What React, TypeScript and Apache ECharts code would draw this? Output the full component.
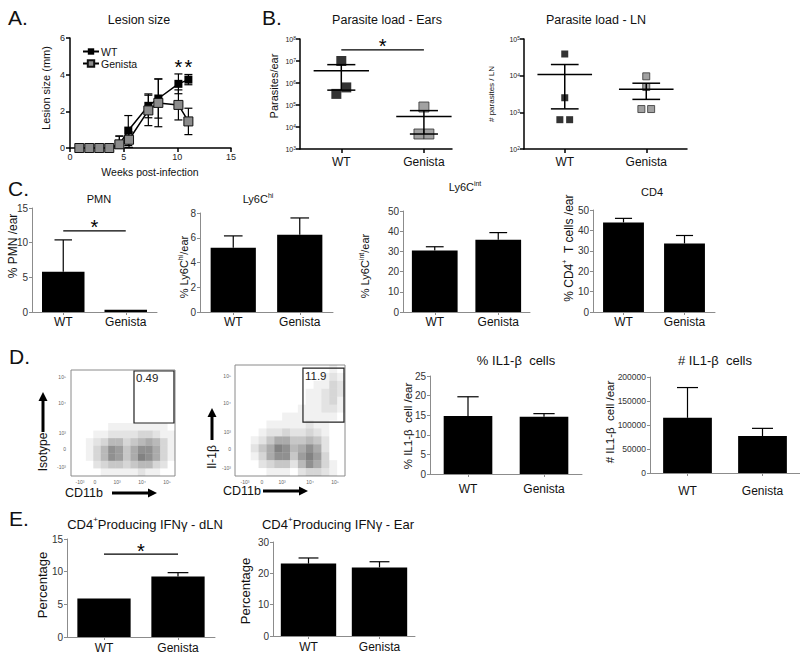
import React, { useEffect, useRef } from 'react';
import * as echarts from 'echarts';

const FONT = '"Liberation Sans", Arial, Helvetica, sans-serif';
const GROUPS = ['WT', 'Genista'];

// ---------- A. Lesion size ----------
const lesionWeeksWT = [0.87, 1.8, 2.73, 3.66, 4.6, 5.43, 7.3, 8.23, 10.1, 11.03];
const lesionWT = [0, 0, 0, 0, 0.2, 0.95, 2.3, 2.7, 3.5, 3.73];
const lesionWTErr = [0, 0, 0, 0, 0.45, 0.82, 0.65, 1.07, 0.54, 0.28];
const lesionWeeksGen = [0.87, 1.8, 2.73, 3.66, 4.6, 5.5, 7.3, 8.23, 10.1, 11.03];
const lesionGen = [0, 0, 0, 0, 0.2, 0.45, 2.05, 2.46, 2.35, 1.45];
const lesionGenErr = [0, 0, 0, 0, 0.45, 0.42, 0.83, 1.3, 0.82, 0.72];
const lesionStarWeeks = [10.1, 11.03];
const lesionStarY = 4.4;

// ---------- B. Parasite load ----------
const earsWT = [1.0e7, 6.3e5, 3.2e5];
const earsJitterWT = [0, 0.06, -0.06];
const earsGen = [8.1e4, 4.8e3, 4.8e3];
const earsJitterGen = [0, -0.06, 0.06];
const earsSig = 3.2e7;
const lnWT = [3.9e4, 2.5e3, 6.3e2, 6.3e2];
const lnJitterWT = [0, 0, -0.06, 0.06];
const lnGen = [9.6e3, 4.9e3, 1.23e3, 1.23e3];
const lnJitterGen = [0, 0, -0.06, 0.06];

// ---------- C. Cell populations ----------
const pmnMean = [5.8, 0.34];
const pmnSem = [4.6, 0];
const pmnSig = 11.7;
const ly6chiMean = [5.2, 6.25];
const ly6chiSem = [0.95, 1.35];
const ly6cintMean = [30.5, 35.8];
const ly6cintSem = [1.8, 3.5];
const cd4Mean = [43.9, 33.6];
const cd4Sem = [2.0, 3.9];

// ---------- D. IL1-beta ----------
const il1PctMean = [14.8, 14.6];
const il1PctSem = [4.9, 0.8];
const il1NumMean = [115000, 77000];
const il1NumSem = [63000, 16000];

// flow plot densities (rows top -> bottom, 14 x 14 cells, 0-9)
const flowIsotype = [
  '00000000000000',
  '00000000000000',
  '00000000000000',
  '00000000000000',
  '00000000000000',
  '00000000000000',
  '00000000000000',
  '00000111111110',
  '00011222233211',
  '00123553456531',
  '00135874688631',
  '00135874698631',
  '00023443455320',
  '00001111121100',
];
const flowIl1b = [
  '00000000000010',
  '00000000000121',
  '00000000001132',
  '00000000011232',
  '00000000011231',
  '00000000111221',
  '00000011111110',
  '00001111121100',
  '00012232232100',
  '00124664454200',
  '00246985686200',
  '00136884797300',
  '00023442586310',
  '00001110233210',
];
const flowIsotypeGate = [8.48, 7.0, 13.86, 13.87];
const flowIsotypeGateLabel = '0.49';
const flowIl1bGate = [8.65, 6.8, 13.87, 13.6];
const flowIl1bGateLabel = '11.9';
const flowTicksY = ['10⁵', '10⁴', '10³', '0', '-10³'];
const flowTicksX = ['-10³', '0', '10³', '10⁴', '10⁵'];

// ---------- E. IFN-gamma ----------
const ifnLnMean = [5.9, 9.25];
const ifnLnSem = [0, 0.6];
const ifnLnSig = 12.7;
const ifnEarMean = [23.1, 21.9];
const ifnEarSem = [1.8, 1.8];

// ---------- helpers ----------
const ln = (x1: number, y1: number, x2: number, y2: number, w = 1.2, c = '#000') => ({
  type: 'line',
  shape: { x1, y1, x2, y2 },
  style: { stroke: c, lineWidth: w },
});

const txtStyle = (text: string, fontSize: number, extra: any = {}) => ({
  text,
  fontSize,
  fontFamily: FONT,
  fill: extra.fill || '#111',
  align: extra.align || 'center',
  verticalAlign: extra.vAlign || 'middle',
  textAlign: extra.align || 'center',
  textVerticalAlign: extra.vAlign || 'middle',
  rich: extra.rich,
});

const T = (x: number, y: number, text: string, fontSize: number, extra: any = {}) => ({
  type: 'text',
  x,
  y,
  rotation: extra.rotation || 0,
  silent: true,
  style: txtStyle(text, fontSize, extra),
});

const supRich = (base: number, sup: number) => ({
  a: { fontSize: base, fontFamily: FONT, fill: '#111', lineHeight: base + 4 },
  b: { fontSize: sup, fontFamily: FONT, fill: '#111', verticalAlign: 'top', lineHeight: sup + 1 },
});

function stats(arr: number[]) {
  const n = arr.length;
  const m = arr.reduce((s, v) => s + v, 0) / n;
  const sd = Math.sqrt(arr.reduce((s, v) => s + (v - m) * (v - m), 0) / (n - 1));
  return { mean: m, sem: sd / Math.sqrt(n) };
}

const upperErr = (_p: any, api: any) => {
  const i = api.value(0), m = api.value(1), e = api.value(2);
  if (!e) return { type: 'group', children: [] };
  const p0 = api.coord([i, m]);
  const p1 = api.coord([i, m + e]);
  const hw = api.size([1, 0])[0] * 0.14;
  return { type: 'group', children: [ln(p0[0], p0[1], p1[0], p1[1]), ln(p1[0] - hw, p1[1], p1[0] + hw, p1[1])] };
};

const bothErr = (_p: any, api: any) => {
  const x = api.value(0), m = api.value(1), e = api.value(2);
  if (!e) return { type: 'group', children: [] };
  const u = api.coord([x, m + e]);
  const l = api.coord([x, Math.max(0, m - e)]);
  const hw = 4;
  return {
    type: 'group',
    children: [ln(u[0], u[1], l[0], l[1]), ln(u[0] - hw, u[1], u[0] + hw, u[1]), ln(l[0] - hw, l[1], l[0] + hw, l[1])],
  };
};

const sigRender = (_p: any, api: any) => {
  const a = api.coord([api.value(0), api.value(2)]);
  const b = api.coord([api.value(1), api.value(2)]);
  return {
    type: 'group',
    children: [
      ln(a[0], a[1], b[0], b[1], 1.3),
      { type: 'text', x: (a[0] + b[0]) / 2, y: a[1] - 3.5, style: txtStyle('*', 20, { fill: '#000' }) },
    ],
  };
};

const starRender = (_p: any, api: any) => {
  const p = api.coord([api.value(0), api.value(1)]);
  return { type: 'text', x: p[0], y: p[1], style: txtStyle('*', 20, { fill: '#000' }) };
};

const meanSemRender = (_p: any, api: any) => {
  const x = api.value(0);
  const m = api.coord([x, api.value(1)]);
  const u = api.coord([x, api.value(2)]);
  const l = api.coord([x, api.value(3)]);
  const unit = api.size([1, 0])[0];
  const mh = unit * 0.335, ch = unit * 0.17;
  return {
    type: 'group',
    children: [
      ln(m[0] - mh, m[1], m[0] + mh, m[1], 1.5),
      ln(u[0], u[1], l[0], l[1], 1.5),
      ln(u[0] - ch, u[1], u[0] + ch, u[1], 1.5),
      ln(l[0] - ch, l[1], l[0] + ch, l[1], 1.5),
    ],
  };
};

const densityRender = (_p: any, api: any) => {
  const x = api.value(0), y = api.value(1), d = api.value(2);
  const p0 = api.coord([x, y]);
  const p1 = api.coord([x + 1, y + 1]);
  return {
    type: 'rect',
    shape: { x: p0[0], y: p1[1], width: p1[0] - p0[0], height: p0[1] - p1[1] },
    style: { fill: `rgba(30,30,30,${(d * 0.062).toFixed(3)})` },
  };
};

const gateRender = (label: string) => (_p: any, api: any) => {
  const a = api.coord([api.value(0), api.value(3)]);
  const b = api.coord([api.value(2), api.value(1)]);
  return {
    type: 'group',
    children: [
      { type: 'rect', shape: { x: a[0], y: a[1], width: b[0] - a[0], height: b[1] - a[1] }, style: { fill: 'none', stroke: '#222', lineWidth: 1.2 } },
      { type: 'text', x: a[0] + 2, y: a[1] + 7.5, style: txtStyle(label, 11.5, { align: 'left', fill: '#222' }) },
    ],
  };
};

const densityData = (rows: string[]) =>
  rows.flatMap((row, r) => row.split('').map((c, col) => [col, rows.length - 1 - r, Number(c)])).filter((d) => d[2] > 0);

function buildOption() {
  const grid: any[] = [];
  const xAxis: any[] = [];
  const yAxis: any[] = [];
  const series: any[] = [];
  const graphic: any[] = [];

  const add = (g: any, x: any, y: any) => {
    grid.push(g);
    const gi = grid.length - 1;
    xAxis.push({ ...x, gridIndex: gi });
    yAxis.push({ ...y, gridIndex: gi });
    return gi;
  };

  const blackLine = { show: true, lineStyle: { color: '#000', width: 1.5 } };
  const blackTick = { show: true, length: 4, lineStyle: { color: '#000', width: 1.5 } };
  const grayLine = { show: true, lineStyle: { color: '#8c8c8c', width: 1 } };
  const grayTick = { show: true, length: 3, lineStyle: { color: '#8c8c8c', width: 1 } };
  const noSplit = { show: false };

  // ---------- A ----------
  const a = add(
    { left: 70, top: 38, width: 161, height: 110 },
    { type: 'value', min: 0, max: 15, interval: 5, axisLine: blackLine, axisTick: blackTick, splitLine: noSplit, axisLabel: { fontSize: 9, color: '#222', margin: 4, fontFamily: FONT } },
    { type: 'value', min: 0, max: 6, interval: 2, axisLine: blackLine, axisTick: blackTick, splitLine: noSplit, axisLabel: { fontSize: 9, color: '#222', margin: 5, fontFamily: FONT } }
  );
  series.push({
    type: 'custom', xAxisIndex: a, yAxisIndex: a, z: 2, encode: { x: 0, y: 1 }, renderItem: bothErr,
    data: lesionWeeksWT.map((w, i) => [w, lesionWT[i], lesionWTErr[i]]),
  });
  series.push({
    type: 'custom', xAxisIndex: a, yAxisIndex: a, z: 2, encode: { x: 0, y: 1 }, renderItem: bothErr,
    data: lesionWeeksGen.map((w, i) => [w, lesionGen[i], lesionGenErr[i]]),
  });
  series.push({
    type: 'line', name: 'WT', xAxisIndex: a, yAxisIndex: a, z: 4, symbol: 'rect', symbolSize: 8,
    lineStyle: { color: '#000', width: 1.5 }, itemStyle: { color: '#000' },
    data: lesionWeeksWT.map((w, i) => [w, lesionWT[i]]),
  });
  series.push({
    type: 'line', name: 'Genista', xAxisIndex: a, yAxisIndex: a, z: 5, symbol: 'rect', symbolSize: 9,
    lineStyle: { color: '#000', width: 1.5 }, itemStyle: { color: '#8c8c8c', borderColor: '#111', borderWidth: 1 },
    data: lesionWeeksGen.map((w, i) => [w, lesionGen[i]]),
  });
  series.push({
    type: 'custom', xAxisIndex: a, yAxisIndex: a, z: 6, encode: { x: 0, y: 1 }, renderItem: starRender,
    data: lesionStarWeeks.map((w) => [w, lesionStarY]),
  });

  // ---------- B ----------
  const logLabel = {
    fontSize: 7, color: '#222', margin: 4, fontFamily: FONT,
    formatter: (v: number) => '10{s|' + Math.round(Math.log10(v)) + '}',
    rich: { s: { fontSize: 5, verticalAlign: 'top', lineHeight: 6, fontFamily: FONT, color: '#222' } },
  };
  const catX = (max: number) => ({
    type: 'value', min: 0.5, max, splitLine: noSplit, axisLine: blackLine,
    axisTick: { ...blackTick, customValues: [1, 2] },
    axisLabel: { customValues: [1, 2], formatter: (v: number) => GROUPS[Math.round(v) - 1], fontSize: 12, color: '#111', margin: 7, fontFamily: FONT },
  });
  const scatterPair = (gi: number, wt: number[], wtJ: number[], gen: number[], genJ: number[], size: number) => {
    series.push({
      type: 'scatter', xAxisIndex: gi, yAxisIndex: gi, z: 3, symbol: 'rect', symbolSize: size,
      itemStyle: { color: '#000' }, data: wt.map((v, i) => [1 + wtJ[i], v]),
    });
    series.push({
      type: 'scatter', xAxisIndex: gi, yAxisIndex: gi, z: 3, symbol: 'rect', symbolSize: size,
      itemStyle: { color: '#8a8a8a', borderColor: '#333', borderWidth: 1 }, data: gen.map((v, i) => [2 + genJ[i], v]),
    });
    const sw = stats(wt), sg = stats(gen);
    series.push({
      type: 'custom', xAxisIndex: gi, yAxisIndex: gi, z: 4, encode: { x: 0, y: [1, 2, 3] }, renderItem: meanSemRender,
      data: [
        [1, sw.mean, sw.mean + sw.sem, sw.mean - sw.sem],
        [2, sg.mean, sg.mean + sg.sem, sg.mean - sg.sem],
      ],
    });
  };

  const b1 = add(
    { left: 300, top: 39, width: 152, height: 110 },
    catX(2.34),
    { type: 'log', logBase: 10, min: 1e3, max: 1e8, axisLine: blackLine, axisTick: blackTick, splitLine: noSplit, minorTick: { show: false }, axisLabel: logLabel }
  );
  scatterPair(b1, earsWT, earsJitterWT, earsGen, earsJitterGen, 10);
  series.push({
    type: 'custom', xAxisIndex: b1, yAxisIndex: b1, z: 5, encode: { x: [0, 1], y: 2 }, renderItem: sigRender,
    data: [[1, 2, earsSig]],
  });

  const b2 = add(
    { left: 524, top: 39, width: 163, height: 110 },
    catX(2.5),
    { type: 'log', logBase: 10, min: 1e2, max: 1e5, axisLine: blackLine, axisTick: blackTick, splitLine: noSplit, minorTick: { show: false }, axisLabel: logLabel }
  );
  scatterPair(b2, lnWT, lnJitterWT, lnGen, lnJitterGen, 7);

  // ---------- bar panels ----------
  const barPanel = (
    box: { left: number; top: number; width: number; height: number },
    means: number[], sems: number[], max: number, interval: number, barWidth: string,
    o: { yFont?: number; xMargin?: number; yFmt?: any; sig?: number } = {}
  ) => {
    const gi = add(
      box,
      {
        type: 'category', data: GROUPS, axisLine: grayLine, axisTick: { ...grayTick, alignWithLabel: true },
        axisLabel: { fontSize: 12, color: '#111', margin: o.xMargin ?? 4, fontFamily: FONT },
      },
      {
        type: 'value', min: 0, max, interval, splitLine: noSplit, axisLine: grayLine, axisTick: grayTick,
        axisLabel: { fontSize: o.yFont ?? 10, color: '#333', margin: 4, fontFamily: FONT, formatter: o.yFmt },
      }
    );
    series.push({ type: 'bar', xAxisIndex: gi, yAxisIndex: gi, data: means, barWidth, itemStyle: { color: '#000' }, z: 2 });
    series.push({
      type: 'custom', xAxisIndex: gi, yAxisIndex: gi, z: 3, encode: { x: 0, y: 1 }, renderItem: upperErr,
      data: means.map((m, i) => [i, m, sems[i]]),
    });
    if (o.sig !== undefined) {
      series.push({
        type: 'custom', xAxisIndex: gi, yAxisIndex: gi, z: 4, encode: { x: [0, 1], y: 2 }, renderItem: sigRender,
        data: [[0, 1, o.sig]],
      });
    }
  };

  barPanel({ left: 32, top: 208, width: 125, height: 104 }, pmnMean, pmnSem, 15, 5, '68%', { sig: pmnSig });
  barPanel({ left: 200, top: 213, width: 133, height: 99 }, ly6chiMean, ly6chiSem, 8, 2, '68%');
  barPanel({ left: 403, top: 211, width: 127, height: 101 }, ly6cintMean, ly6cintSem, 50, 10, '72%');
  barPanel({ left: 593, top: 210, width: 122, height: 102 }, cd4Mean, cd4Sem, 50, 10, '67%');
  barPanel({ left: 430, top: 376, width: 152, height: 98 }, il1PctMean, il1PctSem, 25, 5, '64%', { xMargin: 9 });
  barPanel({ left: 650, top: 377, width: 150, height: 96 }, il1NumMean, il1NumSem, 200000, 50000, '65%', {
    xMargin: 12, yFont: 8.5, yFmt: (v: number) => String(v),
  });
  barPanel({ left: 67, top: 539, width: 148, height: 98 }, ifnLnMean, ifnLnSem, 15, 5, '72%', { xMargin: 5, sig: ifnLnSig });
  barPanel({ left: 273, top: 542, width: 142, height: 94 }, ifnEarMean, ifnEarSem, 30, 10, '78%', { xMargin: 5 });

  // ---------- flow plots ----------
  const flowPanel = (box: any, rows: string[], gate: number[], label: string) => {
    const gi = add(
      { ...box, show: true, borderColor: '#8a8a8a', borderWidth: 1, backgroundColor: '#fff' },
      { type: 'value', min: 0, max: 14, show: false },
      { type: 'value', min: 0, max: 14, show: false }
    );
    series.push({
      type: 'custom', xAxisIndex: gi, yAxisIndex: gi, z: 2, encode: { x: 0, y: 1 }, renderItem: densityRender,
      data: densityData(rows),
    });
    series.push({
      type: 'custom', xAxisIndex: gi, yAxisIndex: gi, z: 3, encode: { x: [0, 2], y: [1, 3] }, renderItem: gateRender(label),
      data: [gate],
    });
  };
  flowPanel({ left: 71, top: 370, width: 104, height: 106 }, flowIsotype, flowIsotypeGate, flowIsotypeGateLabel);
  flowPanel({ left: 235, top: 365, width: 110, height: 111 }, flowIl1b, flowIl1bGate, flowIl1bGateLabel);

  // ---------- texts ----------
  graphic.push(T(8, 17, 'A.', 21, { align: 'left' }));
  graphic.push(T(262, 17, 'B.', 21, { align: 'left' }));
  graphic.push(T(8, 188, 'C.', 21, { align: 'left' }));
  graphic.push(T(9, 356, 'D.', 21, { align: 'left' }));
  graphic.push(T(9, 518, 'E.', 21, { align: 'left' }));

  graphic.push(T(139, 19.5, 'Lesion size', 12.5));
  graphic.push(T(387, 19.5, 'Parasite load - Ears', 12.5));
  graphic.push(T(596, 19.5, 'Parasite load - LN', 12.5));
  graphic.push(T(99, 199, 'PMN', 11));
  graphic.push(T(258, 199, '{a|Ly6C}{b|hi}', 11, { rich: supRich(11, 7) }));
  graphic.push(T(465, 187, '{a|Ly6C}{b|int}', 11, { rich: supRich(11, 7) }));
  graphic.push(T(652, 192, 'CD4', 11));
  graphic.push(T(516, 360, '% IL1-β  cells', 13));
  graphic.push(T(715, 360, '# IL1-β  cells', 13));
  graphic.push(T(145, 524, '{a|CD4}{b|+}{a|Producing IFNγ - dLN}', 13, { rich: supRich(13, 8) }));
  graphic.push(T(338, 524, '{a|CD4}{b|+}{a|Producing IFNγ - Ear}', 13, { rich: supRich(13, 8) }));

  const R = Math.PI / 2;
  graphic.push(T(150, 172, 'Weeks post-infection', 10.5));
  graphic.push(T(46, 88, 'Lesion size (mm)', 11, { rotation: R }));
  graphic.push(T(274, 86, 'Parasites/ear', 11, { rotation: R }));
  graphic.push(T(491, 94, '# parasites / LN', 8, { rotation: R }));
  graphic.push(T(12.5, 246, '% PMN /ear', 12, { rotation: R }));
  graphic.push(T(184, 267, '{a|% Ly6C}{b|hi}{a|/ear}', 11, { rotation: R, rich: supRich(11, 7) }));
  graphic.push(T(365, 266, '{a|% Ly6C}{b|int}{a|/ear}', 11, { rotation: R, rich: supRich(11, 7) }));
  graphic.push(T(569, 248, '{a|% CD4}{b|+}{a|  T cells /ear}', 12, { rotation: R, rich: supRich(12, 7) }));
  graphic.push(T(408, 426, '% IL1-β  cell /ear', 11.5, { rotation: R }));
  graphic.push(T(610, 422, '# IL1-β  cell /ear', 11.5, { rotation: R }));
  graphic.push(T(42, 585, 'Percentage', 13, { rotation: R }));
  graphic.push(T(245, 591, 'Percentage', 13, { rotation: R }));

  graphic.push(T(43, 452, 'Isotype', 12, { rotation: R }));
  graphic.push(T(212, 457, 'Il-1β', 12, { rotation: R }));
  graphic.push(T(84, 493, 'CD11b', 12.5));
  graphic.push(T(242, 491, 'CD11b', 12.5));
  const arrowUp = (x: number, y0: number, y1: number) => {
    graphic.push({ type: 'line', silent: true, shape: { x1: x, y1: y0, x2: x, y2: y1 + 8 }, style: { stroke: '#000', lineWidth: 3 } });
    graphic.push({ type: 'polygon', silent: true, shape: { points: [[x - 4.5, y1 + 9], [x + 4.5, y1 + 9], [x, y1]] }, style: { fill: '#000' } });
  };
  const arrowRight = (y: number, x0: number, x1: number) => {
    graphic.push({ type: 'line', silent: true, shape: { x1: x0, y1: y, x2: x1 - 8, y2: y }, style: { stroke: '#000', lineWidth: 3 } });
    graphic.push({ type: 'polygon', silent: true, shape: { points: [[x1 - 9, y - 4.5], [x1 - 9, y + 4.5], [x1, y]] }, style: { fill: '#000' } });
  };
  arrowUp(43, 432, 392);
  arrowUp(212, 440, 408);
  arrowRight(493, 112, 157);
  arrowRight(491, 263, 308);

  const f1y = [377, 403, 433, 449, 467];
  const f1x = [80, 95, 117, 142, 167];
  const f2y = [376, 403, 432, 449, 468];
  const f2x = [245, 262, 282, 310, 335];
  flowTicksY.forEach((t, i) => {
    graphic.push(T(66, f1y[i], t, 5, { align: 'right', fill: '#666' }));
    graphic.push(T(231, f2y[i], t, 5, { align: 'right', fill: '#666' }));
  });
  flowTicksX.forEach((t, i) => {
    graphic.push(T(f1x[i], 482, t, 5, { fill: '#666' }));
    graphic.push(T(f2x[i], 482, t, 5, { fill: '#666' }));
  });

  return {
    animation: false,
    backgroundColor: '#fff',
    textStyle: { fontFamily: FONT },
    legend: {
      data: ['WT', 'Genista'], orient: 'vertical', left: 82, top: 46, padding: 0, itemGap: 1,
      itemWidth: 16, itemHeight: 8, selectedMode: false,
      textStyle: { fontSize: 10.5, color: '#111', fontFamily: FONT, padding: [0, 0, 0, -3] },
    },
    grid,
    xAxis,
    yAxis,
    series,
    graphic,
  };
}

export default function App() {
  const ref = useRef<HTMLDivElement>(null);
  useEffect(() => {
    document.body.style.margin = '0';
    const chart = echarts.init(ref.current!, null, { renderer: 'svg' });
    chart.setOption(buildOption() as any);
    return () => chart.dispose();
  }, []);
  return <div ref={ref} style={{ width: 800, height: 659, background: '#fff' }} />;
}
